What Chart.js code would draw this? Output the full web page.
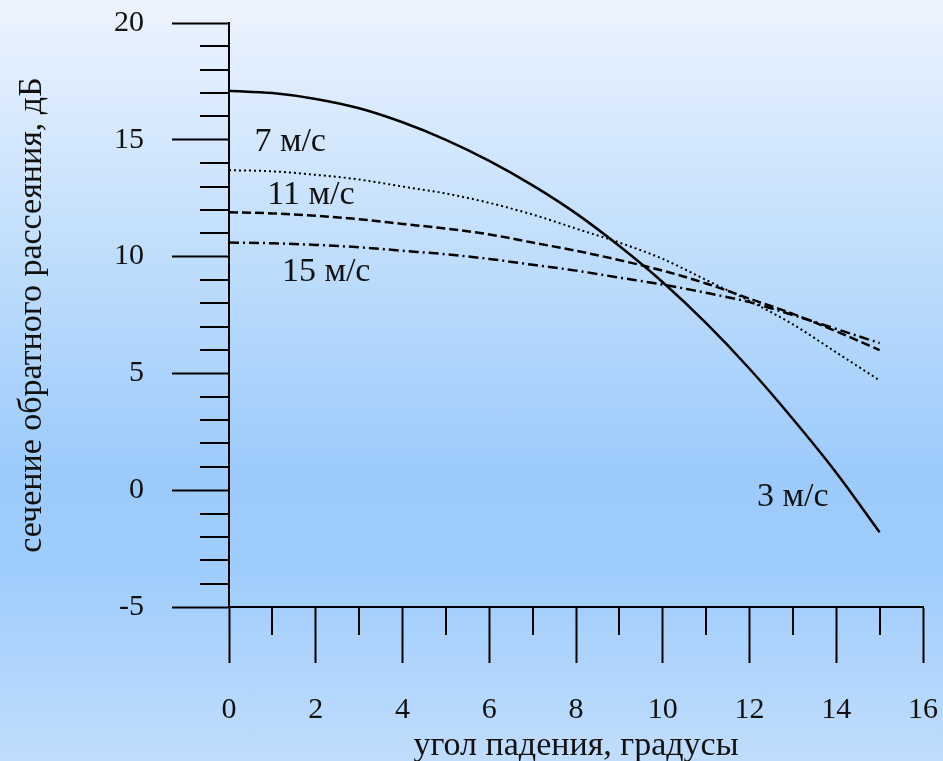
<!DOCTYPE html>
<html>
<head>
<meta charset="utf-8">
<script src="https://cdn.jsdelivr.net/npm/chart.js@4.4.1/dist/chart.umd.min.js"></script>
<style>
    html, body { margin: 0; padding: 0; }
    .wrap {
        width: 943px;
        height: 761px;
        background: linear-gradient(to bottom, #edf4fe 0%, #c4e0fc 30%, #9ccbfb 62%, #9fcdfc 75%, #c0ddfd 100%);
    }
</style>
</head>
<body>
<div class="wrap"><canvas id="chart" width="943" height="761"></canvas></div>
<script>
// angles, degrees
const angles = [0, 1, 2, 3, 4, 5, 6, 7, 8, 9, 10, 11, 12, 13, 14, 15];

// backscatter cross-section, dB, per wind speed
const wind3 = [17.1, 17.0, 16.75, 16.35, 15.75, 15.0, 14.1, 13.05, 11.85, 10.45, 8.9, 7.15, 5.2, 3.05, 0.75, -1.8];
const wind7 = [13.7, 13.65, 13.5, 13.3, 13.0, 12.7, 12.3, 11.8, 11.2, 10.6, 9.9, 9.0, 8.1, 7.1, 5.9, 4.7];
const wind11 = [11.9, 11.85, 11.75, 11.6, 11.4, 11.2, 10.95, 10.6, 10.25, 9.85, 9.4, 8.85, 8.2, 7.55, 6.8, 6.0];
const wind15 = [10.6, 10.57, 10.5, 10.4, 10.25, 10.1, 9.9, 9.65, 9.4, 9.1, 8.8, 8.45, 8.05, 7.5, 6.9, 6.3];

const xTicks = [0, 2, 4, 6, 8, 10, 12, 14, 16];
const yTicks = [-5, 0, 5, 10, 15, 20];

// curve labels, placed in data units
const curveLabels = [
    { text: '7 м/с', x: 1.41, y: 14.9 },
    { text: '11 м/с', x: 1.89, y: 12.64 },
    { text: '15 м/с', x: 2.24, y: 9.34 },
    { text: '3 м/с', x: 13.0, y: -0.29 }
];

const FONT = '"Liberation Serif", "Times New Roman", serif';

function toPoints(ys) {
    return angles.map((a, i) => ({ x: a, y: ys[i] }));
}

// minor ticks and curve labels
const extrasPlugin = {
    id: 'extras',
    afterDraw(chart) {
        const ctx = chart.ctx;
        const xs = chart.scales.x;
        const ys = chart.scales.y;
        const area = chart.chartArea;
        ctx.save();
        ctx.strokeStyle = '#000';
        ctx.lineWidth = 2;
        ctx.beginPath();
        for (let v = -5; v <= 20; v++) {
            if (v % 5 === 0) continue;
            const py = Math.round(ys.getPixelForValue(v));
            ctx.moveTo(area.left - 29, py);
            ctx.lineTo(area.left, py);
        }
        for (let v = 1; v < 16; v += 2) {
            const px = Math.round(xs.getPixelForValue(v));
            ctx.moveTo(px, area.bottom);
            ctx.lineTo(px, area.bottom + 28);
        }
        ctx.stroke();

        ctx.fillStyle = '#111';
        ctx.font = '34px ' + FONT;
        ctx.textAlign = 'center';
        ctx.textBaseline = 'middle';
        curveLabels.forEach(l => {
            ctx.fillText(l.text, xs.getPixelForValue(l.x), ys.getPixelForValue(l.y));
        });
        ctx.restore();
    }
};

const ctx = document.getElementById('chart').getContext('2d');
const chart = new Chart(ctx, {
    type: 'line',
    data: {
        datasets: [
            { label: '3 м/с', data: toPoints(wind3), borderColor: '#000', borderWidth: 2.5 },
            { label: '7 м/с', data: toPoints(wind7), borderColor: '#000', borderWidth: 2, borderDash: [2, 3] },
            { label: '11 м/с', data: toPoints(wind11), borderColor: '#000', borderWidth: 2.5, borderDash: [9, 4] },
            { label: '15 м/с', data: toPoints(wind15), borderColor: '#000', borderWidth: 2.5, borderDash: [10, 4, 2, 4] }
        ]
    },
    options: {
        responsive: false,
        animation: false,
        events: [],
        parsing: false,
        elements: {
            point: { radius: 0 },
            line: { cubicInterpolationMode: 'monotone', fill: false }
        },
        layout: { padding: { top: 23, right: 20, left: 0, bottom: 0 } },
        plugins: {
            legend: { display: false },
            tooltip: { enabled: false }
        },
        scales: {
            x: {
                type: 'linear',
                min: 0,
                max: 16,
                afterFit: s => {
                    s.height = 154;
                    s.paddingLeft = 0;
                    s.paddingRight = 0;
                },
                afterBuildTicks: s => { s.ticks = xTicks.map(v => ({ value: v })); },
                grid: {
                    drawOnChartArea: false,
                    drawTicks: true,
                    tickLength: 56,
                    tickWidth: 2,
                    tickColor: '#000'
                },
                border: { display: true, color: '#000', width: 2 },
                ticks: {
                    color: '#111',
                    padding: 29,
                    maxRotation: 0,
                    font: { family: FONT, size: 30 },
                    callback: v => String(v)
                },
                title: {
                    display: true,
                    text: 'угол падения, градусы',
                    color: '#111',
                    font: { family: FONT, size: 34, lineHeight: 0.9 },
                    padding: { top: 0, bottom: 0 }
                }
            },
            y: {
                type: 'linear',
                min: -5,
                max: 20,
                afterFit: s => {
                    s.width = 229;
                    s.paddingTop = 0;
                    s.paddingBottom = 0;
                },
                afterBuildTicks: s => { s.ticks = yTicks.map(v => ({ value: v })); },
                grid: {
                    drawOnChartArea: false,
                    drawTicks: true,
                    tickLength: 57,
                    tickWidth: 2,
                    tickColor: '#000'
                },
                border: { display: true, color: '#000', width: 2 },
                ticks: {
                    color: '#111',
                    padding: 28,
                    font: { family: FONT, size: 30 },
                    callback: v => String(v)
                },
                title: {
                    display: true,
                    text: 'сечение обратного рассеяния, дБ',
                    color: '#111',
                    font: { family: FONT, size: 34, lineHeight: 1 },
                    padding: { top: 15, bottom: 0 }
                }
            }
        }
    },
    plugins: [extrasPlugin]
});
</script>
</body>
</html>
